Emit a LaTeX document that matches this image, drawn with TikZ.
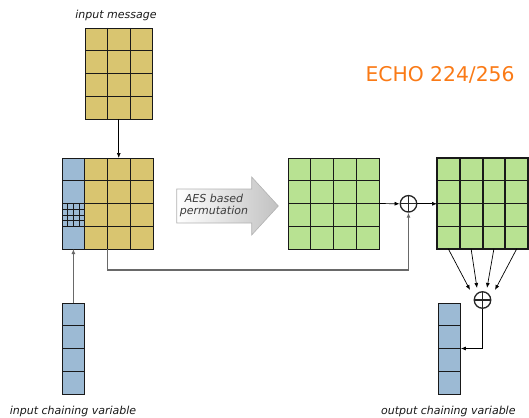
\documentclass[tikz,border=0pt]{standalone}
\usepackage{fontspec}
\setmainfont{DejaVu Sans}
\usetikzlibrary{calc,arrows.meta}
\definecolor{yellowc}{RGB}{217,197,112}
\definecolor{bluec}{RGB}{156,186,212}
\definecolor{greenc}{RGB}{184,226,146}
\definecolor{gridc}{RGB}{25,25,25}
\definecolor{echoc}{RGB}{250,122,22}
\definecolor{linkc}{RGB}{105,105,105}
\definecolor{aestext}{RGB}{60,60,60}
\newcommand\drawgrid[6]{%
  \foreach \i in {#2} \draw[#6] ($(#1.north west)+(\i*#4,0)$) -- ($(#1.south west)+(\i*#4,0)$);
  \foreach \j in {#3} \draw[#6] ($(#1.north west)+(0,\j*#5)$) -- ($(#1.north east)+(0,\j*#5)$);
}
\begin{document}
\begin{tikzpicture}[x=1pt,y=-1pt,
  gridbox/.style={inner sep=0pt, outer sep=0pt, minimum width=#1},
  cellline/.style={draw=gridc, line width=0.9pt},
  thinline/.style={draw=gridc, line width=0.55pt},
  thickv/.style={draw=gridc, line width=2pt},
  thickh/.style={draw=gridc, line width=1.3pt},
  arr/.style={-{Latex[length=5pt,width=4pt]}, line width=0.7pt, draw=black},
  grayarr/.style={-{Latex[length=5pt,width=4pt]}, line width=1.2pt, draw=linkc},
  lbl/.style={font=\fontsize{11pt}{13pt}\selectfont\itshape, inner sep=0pt, anchor=base, text=black!90},
  xor/.style={circle, draw=black!85, line width=1.3pt, minimum size=16.5pt, inner sep=0pt,
    path picture={\draw[line width=1.3pt, black!85] (path picture bounding box.north) -- (path picture bounding box.south)
      (path picture bounding box.west) -- (path picture bounding box.east);}}
]
\useasboundingbox (0,0) rectangle (529,417);

% input message
\node[gridbox=67.5pt, minimum height=91pt, fill=yellowc] (msg) at (118.75,73.5) {};
\drawgrid{msg}{1,2}{1,2,3}{22.5}{22.75}{cellline}
\draw[cellline] (msg.north west) rectangle (msg.south east);

% main state
\node[gridbox=91pt, minimum height=91pt, fill=yellowc] (main) at (107.5,203.5) {};
\fill[bluec] (main.north west) rectangle ($(main.south west)+(22.75,0)$);
\foreach \k in {1,2,3} {
  \draw[thinline] ($(main.north west)+(\k*5.6875,136.5-91)$) -- ($(main.north west)+(\k*5.6875,159.25-91)$);
  \draw[thinline] ($(main.north west)+(0,45.5+\k*5.6875)$) -- ($(main.north west)+(22.75,45.5+\k*5.6875)$);
}
\drawgrid{main}{1,2,3}{1,2,3}{22.75}{22.75}{cellline}
\draw[cellline] (main.north west) rectangle (main.south east);

% input chaining variable
\node[gridbox=22.75pt, minimum height=91pt, fill=bluec] (cin) at (73.4,348.5) {};
\drawgrid{cin}{}{1,2,3}{22.75}{22.75}{cellline}
\draw[cellline] (cin.north west) rectangle (cin.south east);

% AES arrow
\shade[left color=white, right color=black!24, draw=black!30, line width=0.6pt]
  (176.7,189) -- (251.7,189) -- (251.7,177) -- (278.3,206) -- (251.7,235) -- (251.7,223) -- (176.7,223) -- cycle;
\node[font=\fontsize{11pt}{11.5pt}\selectfont\itshape, text=aestext, align=center, inner sep=0pt] (aes) at (214,205.5) {AES based\\permutation};

% middle green
\node[gridbox=91pt, minimum height=91pt, fill=greenc] (mid) at (333.5,203.5) {};
\drawgrid{mid}{1,2,3}{1,2,3}{22.75}{22.75}{cellline}
\draw[cellline] (mid.north west) rectangle (mid.south east);

% right green
\node[gridbox=91pt, minimum height=91pt, fill=greenc] (rg) at (482.5,203.5) {};
\drawgrid{rg}{}{1,2,3}{22.75}{22.75}{thickh}
\drawgrid{rg}{1,2,3}{}{22.75}{22.75}{thickv}
\draw[thickv] (rg.north west) rectangle (rg.south east);

% output chaining variable
\node[gridbox=22.75pt, minimum height=91pt, fill=bluec] (cout) at (449.5,348.5) {};
\drawgrid{cout}{}{1,2,3}{22.75}{22.75}{cellline}
\draw[cellline] (cout.north west) rectangle (cout.south east);

% xors
\node[xor] (x1) at (408.5,203.8) {};
\node[xor] (x2) at (482.5,300) {};

% connectors
\draw[arr] (msg.south) -- (msg.south |- main.north);
\draw[grayarr] (cin.north) -- (cin.north |- main.south);
\coordinate (turn) at (0,270);
\draw[grayarr] (main.south) -- (main.south |- turn) -| (x1.south);
\draw[arr] (mid.east) -- (x1.west);
\draw[arr] (x1.east) -- (rg.west |- x1.east);
\coordinate (e1) at ($(x2)+(-12.5,-10)$);
\coordinate (e2) at ($(x2)+(-5.5,-12)$);
\coordinate (e3) at ($(x2)+(4.5,-12)$);
\coordinate (e4) at ($(x2)+(12.5,-10)$);
\draw[arr] ($(rg.south west)+(11.375,0)$) -- (e1);
\draw[arr] ($(rg.south west)+(34.125,0)$) -- (e2);
\draw[arr] ($(rg.south west)+(56.875,0)$) -- (e3);
\draw[arr] ($(rg.south west)+(79.625,0)$) -- (e4);
\draw[arr] (x2.south) |- (cout.east);

% labels
\node[lbl] (lmsg) at (116,18.5) {input message};
\node[lbl] (lin) at (73,414) {input chaining variable};
\node[lbl] (lout) at (448.3,414) {output chaining variable};
\node[font=\fontsize{20.3pt}{24pt}\selectfont, text=echoc, anchor=base west, inner sep=0pt] (echo) at (365.3,81.7) {ECHO 224/256};
\end{tikzpicture}
\end{document}
